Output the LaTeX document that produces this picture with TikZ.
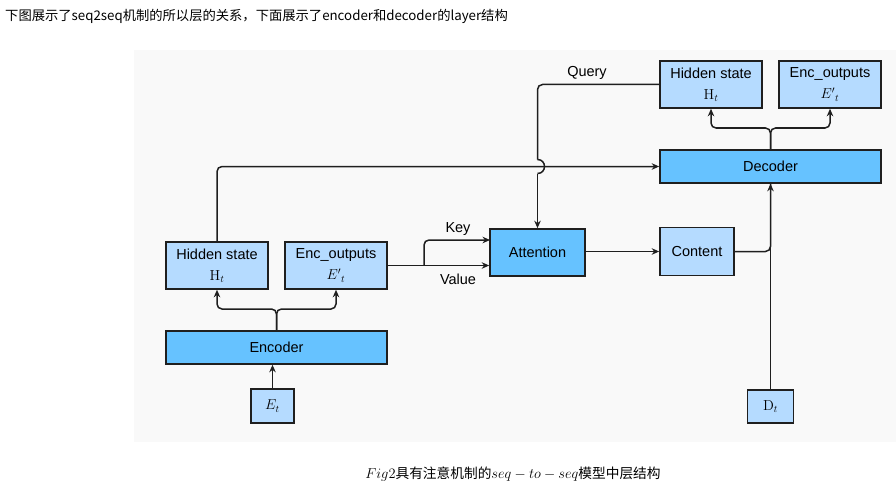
\documentclass[tikz,border=0pt]{standalone}
\usepackage{fontspec}
\newfontfamily\sansf{Liberation Sans}
\newfontfamily\cjk{Noto Sans CJK SC}
\usetikzlibrary{arrows.meta}
\definecolor{bg}{HTML}{F9F9F9}
\definecolor{lb}{HTML}{B5DBFF}
\definecolor{db}{HTML}{66C2FF}
\definecolor{ln}{HTML}{1F1F1F}
\begin{document}
\begin{tikzpicture}[x=1pt,y=-1pt,
 box/.style={draw=ln,line width=1.6pt,inner sep=0pt,font=\sansf\fontsize{14.5}{17}\selectfont,align=center},
 lbox/.style={box,fill=lb},
 dbox/.style={box,fill=db},
 conn/.style={draw=ln,line width=1.5pt,rounded corners=5pt},
 arr/.style={conn,-{Stealth[length=7.5pt,width=6.5pt]}},
 lbl/.style={font=\sansf\fontsize{14.5}{17}\selectfont,inner sep=0pt}]
\useasboundingbox (0,0) rectangle (896,492);
\fill[bg] (134,50) rectangle (896,442);

\node[anchor=west,inner sep=0pt,font=\cjk\fontsize{13.3}{15}\selectfont] (hdr) at (5,16) {下图展示了seq2seq机制的所以层的关系，下面展示了encoder和decoder的layer结构};

% encoder side
\node[lbox,minimum width=102pt,minimum height=47pt] (hse) at (217,265.5) {Hidden state\\[4pt]$\mathrm{H}_t$};
\node[lbox,minimum width=102pt,minimum height=47pt] (eo) at (336,265.5) {Enc\_outputs\\[4pt]$E'{}_t$};
\node[dbox,minimum width=221pt,minimum height=33pt] (enc) at (276.5,347.5) {Encoder};
\node[lbox,minimum width=43pt,minimum height=34pt] (et) at (272.5,406) {$E_t$};

% middle
\node[dbox,minimum width=95pt,minimum height=47pt] (att) at (537.5,252.5) {Attention};
\node[lbox,minimum width=74pt,minimum height=48pt] (con) at (697,251.5) {Content};

% decoder side
\node[dbox,minimum width=221pt,minimum height=33pt] (dec) at (770.5,166.5) {Decoder};
\node[lbox,minimum width=102pt,minimum height=47pt] (hsd) at (711,84.5) {Hidden state\\[4pt]$\mathrm{H}_t$};
\node[lbox,minimum width=102pt,minimum height=47pt] (eod) at (830,84.5) {Enc\_outputs\\[4pt]$E'{}_t$};
\node[lbox,minimum width=46pt,minimum height=33pt] (dt) at (770.5,406.5) {$\mathrm{D}_t$};

% labels
\node[lbl] (q) at (587,73) {Query};
\node[lbl] (key) at (458,229) {Key};
\node[lbl] (val) at (458,279) {Value};

% caption
\node[inner sep=0pt,font=\fontsize{13.7}{16}\selectfont] (cap) at (513,474) {$Fig2${\cjk 具有注意机制的}$seq-to-seq${\cjk 模型中层结构}};

% coordinates
\coordinate (eb) at (276.5,309);
\coordinate (db) at (770.5,128);
\coordinate (hopT) at (537.5,159.5);
\coordinate (hopB) at (537.5,173.5);
\coordinate (kv) at (424,265.5);
\coordinate (katt) at (490,240);

% connectors
\draw[arr] (et.north) -- (et.north |- enc.south);
\draw[arr] (enc.north) -- (eb) -| (hse.south);
\draw[arr] (enc.north) -- (eb) -| (eo.south);
\draw[arr] (dec.north) -- (db) -| (hsd.south);
\draw[arr] (dec.north) -- (db) -| (eod.south);
\draw[arr] (hse.north) |- (dec.west);
\draw[conn] (hsd.west) -| (hopT);
\draw[conn] (hopT) .. controls +(9.3,0) and +(9.3,0) .. (hopB);
\draw[arr] (hopB) -- (att.north);
\draw[arr] (eo.east) -- (eo.east -| att.west);
\draw[arr] (kv) |- (katt);
\draw[arr] (att.east |- con.west) -- (con.west);
\draw[conn] (con.east) -| (dec.south);
\draw[arr] (dt.north) -- (dec.south);
\end{tikzpicture}
\end{document}
